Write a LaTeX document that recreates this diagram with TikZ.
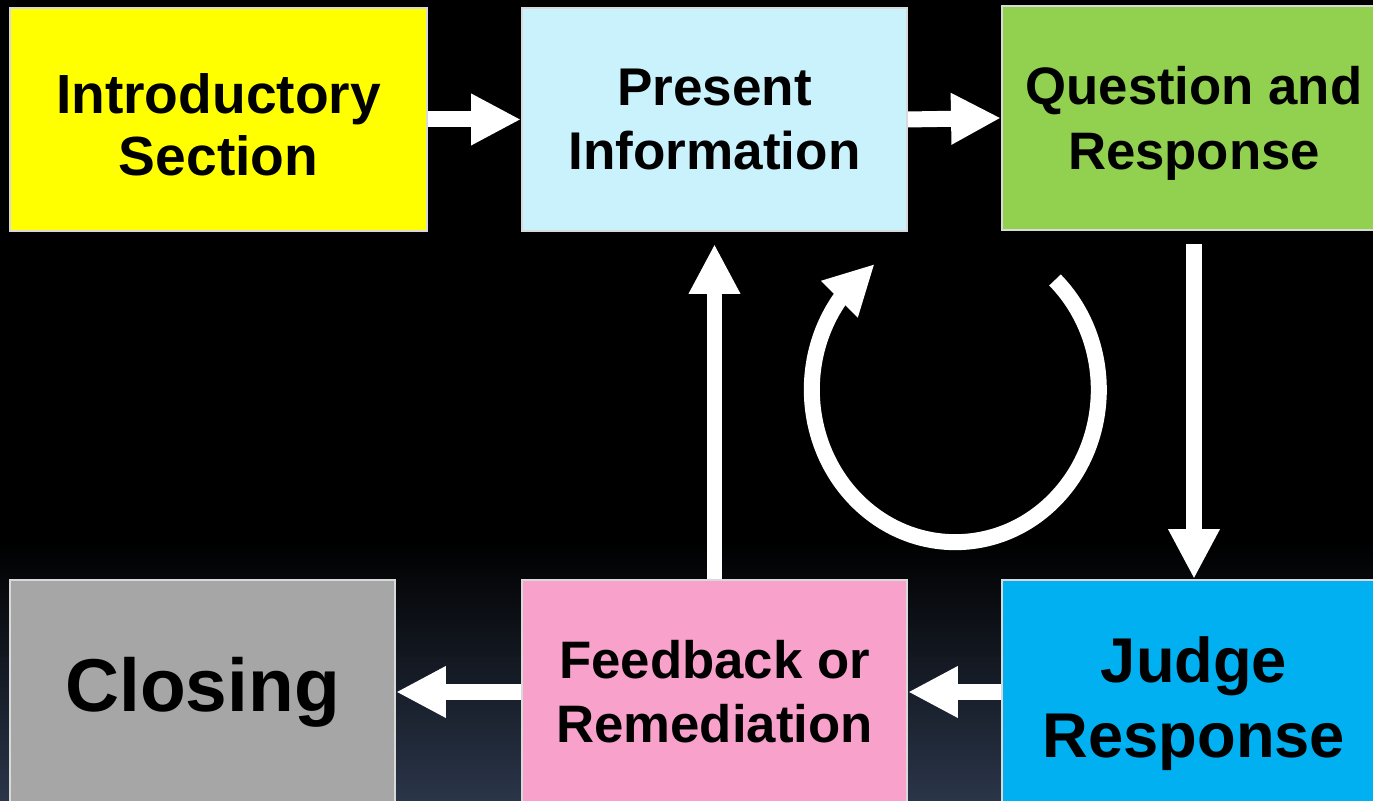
\documentclass[tikz,border=0pt]{standalone}
\usepackage{fontspec}
\setmainfont{Liberation Sans}
\usetikzlibrary{arrows.meta}
\definecolor{introyellow}{HTML}{FFFF00}
\definecolor{presentblue}{HTML}{C9F2FC}
\definecolor{questiongreen}{HTML}{92D050}
\definecolor{closinggray}{HTML}{A6A6A6}
\definecolor{feedbackpink}{HTML}{F7A1CB}
\definecolor{judgeblue}{HTML}{00B0F0}
\definecolor{bgnavy}{HTML}{2A3549}

\begin{document}
\begin{tikzpicture}[x=1cm,y=1cm,
    box/.style={draw=white!85!black, line width=0.6pt, align=center, inner sep=0pt},
    blockarrow/.style={white, line width=4.55pt, -{Triangle[length=14.2pt,width=13.7pt]}}]
    \useasboundingbox (0,0) rectangle (13.73,8.01);
    \fill[black] (0,0) rectangle (13.73,8.01);
    \shade[top color=black, bottom color=bgnavy] (0,0) rectangle (13.73,2.6);

    % upper row
    \node[box, fill=introyellow, minimum width=4.17cm, minimum height=2.23cm, text height=32pt,
      font=\bfseries\fontsize{15.7}{17.6}\selectfont] (intro) at (2.185,6.815) {Introductory\\Section};
    \node[box, fill=presentblue, minimum width=3.85cm, minimum height=2.23cm,
      font=\bfseries\fontsize{15.1}{18.2}\selectfont] (present) at (7.145,6.815) {Present\\Information};
    \node[box, fill=questiongreen, minimum width=3.84cm, minimum height=2.24cm, text height=32.6pt,
      font=\bfseries\fontsize{15}{18.5}\selectfont] (question) at (11.94,6.83) {Question and\\Response};

    % lower row
    \node[box, fill=closinggray, minimum width=3.85cm, minimum height=2.24cm,
      font=\bfseries\fontsize{21.3}{24}\selectfont] (closing) at (2.025,1.09) {Closing};
    \node[box, fill=feedbackpink, minimum width=3.85cm, minimum height=2.24cm,
      font=\bfseries\fontsize{15}{18.2}\selectfont] (feedback) at (7.145,1.09) {Feedback or\\Remediation};
    \node[box, fill=judgeblue, minimum width=3.84cm, minimum height=2.24cm, text height=41pt,
      font=\bfseries\fontsize{18}{21.3}\selectfont] (judge) at (11.94,1.09) {Judge\\Response};

    % connectors
    \draw[blockarrow] (intro.east) -- (present.west);
    \draw[blockarrow] (present.east) -- (question.west);
    \draw[blockarrow, shorten <=0.13cm] (question) -- (judge);
    \draw[blockarrow] (judge.west) -- (feedback.east);
    \draw[blockarrow] (feedback.west) -- (closing.east);
    \draw[blockarrow, shorten >=0.12cm] (feedback) -- (present);

    % loop
    \coordinate (loopstart) at (10.55,5.21);
    \draw[blockarrow] (loopstart) arc[start angle=46, end angle=-217, x radius=1.435, y radius=1.525]
      -- ++(45:0.48);
  \end{tikzpicture}
\end{document}
